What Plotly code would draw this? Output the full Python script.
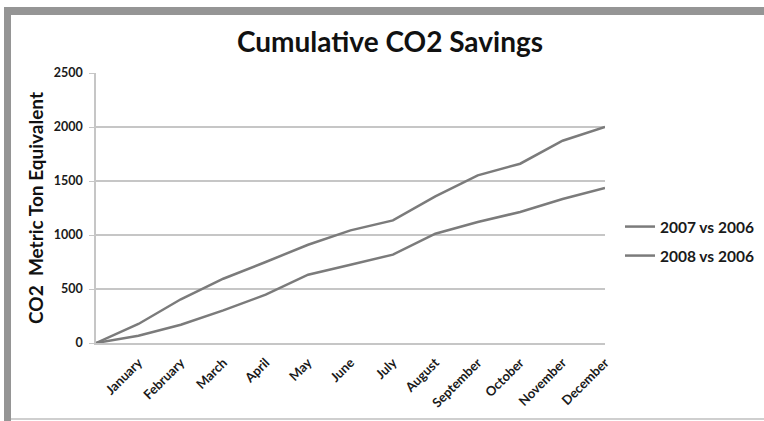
import plotly.graph_objects as go

# Monthly cumulative CO2 savings (metric ton equivalent); first point is the zero start
months = ["January", "February", "March", "April", "May", "June",
          "July", "August", "September", "October", "November", "December"]
series_names = ["2007 vs 2006", "2008 vs 2006"]
savings_2007 = [0, 68, 169, 302, 447, 632, 725, 818, 1012, 1120, 1213, 1333, 1435]
savings_2008 = [0, 176, 405, 595, 750, 910, 1043, 1135, 1358, 1552, 1660, 1873, 2000]
y_ticks = [0, 500, 1000, 1500, 2000, 2500]

FONT = "Lato"
LINE = "#7b7b7b"
GRID = "#c6c6c6"

W, H = 764, 421
L, R, T, B = 96, 159, 73, 78
pw, ph = W - L - R, H - T - B


def px_x(px):
    return (px - L) / pw


def px_y(py):
    return (H - B - py) / ph


positions = list(range(len(savings_2007)))

fig = go.Figure()
fig.add_trace(go.Scatter(x=positions, y=savings_2007, name=series_names[0],
                         mode="lines", line=dict(color=LINE, width=2.5),
                         legend="legend", showlegend=True))
fig.add_trace(go.Scatter(x=positions, y=savings_2008, name=series_names[1],
                         mode="lines", line=dict(color=LINE, width=2.5),
                         legend="legend2", showlegend=True))

legend_common = dict(
    xref="paper", yref="paper", xanchor="left", yanchor="middle",
    font=dict(family=FONT, size=15.5, color="#1a1a1a", weight="bold"),
    bgcolor="rgba(0,0,0,0)", borderwidth=0, visible=True,
)

fig.update_layout(
    width=W, height=H,
    showlegend=True,
    margin=dict(l=L, r=R, t=T, b=B, pad=0, autoexpand=False),
    paper_bgcolor="white", plot_bgcolor="white",
    title=dict(text="<b>Cumulative CO2 Savings</b>", xref="paper", yref="container",
               x=px_x(390), y=1 - 42 / H, xanchor="center", yanchor="middle",
               font=dict(family=FONT, size=28, color="#111")),
    xaxis=dict(range=[0, len(months)], tickvals=list(range(1, len(months) + 1)),
               ticktext=months, tickangle=-45, showgrid=False, zeroline=False,
               showline=True, linecolor=GRID, linewidth=2, ticks="",
               ticklabelstandoff=5,
               tickfont=dict(family=FONT, size=13, color="#1a1a1a", weight="bold")),
    yaxis=dict(range=[0, 2500], tickvals=y_ticks, showgrid=True, gridcolor=GRID,
               gridwidth=1.5, zeroline=False, showline=True, linecolor=GRID,
               linewidth=1.5, ticks="outside", ticklen=5, tickcolor=GRID,
               ticklabelstandoff=4,
               tickfont=dict(family=FONT, size=12.5, color="#1a1a1a", weight="bold")),
    legend=dict(x=px_x(620), y=px_y(227), **legend_common),
    legend2=dict(x=px_x(620), y=px_y(256), **legend_common),
    annotations=[dict(text="<b>CO2  Metric Ton Equivalent</b>", textangle=-90,
                      xref="paper", yref="paper", x=px_x(35), y=0.5,
                      xanchor="center", yanchor="middle", showarrow=False,
                      font=dict(family=FONT, size=19, color="#111"))],
    shapes=[
        # outer frame: top band, left band, bottom rule
        dict(type="rect", xref="paper", yref="paper", x0=px_x(4), x1=px_x(764),
             y0=px_y(15), y1=px_y(7), fillcolor="#959595", line=dict(width=0)),
        dict(type="rect", xref="paper", yref="paper", x0=px_x(4), x1=px_x(11),
             y0=px_y(421), y1=px_y(7), fillcolor="#959595", line=dict(width=0)),
        dict(type="rect", xref="paper", yref="paper", x0=px_x(11), x1=px_x(764),
             y0=px_y(420), y1=px_y(418), fillcolor="#cfcfcf", line=dict(width=0)),
    ],
)

fig.write_html("out.html")
